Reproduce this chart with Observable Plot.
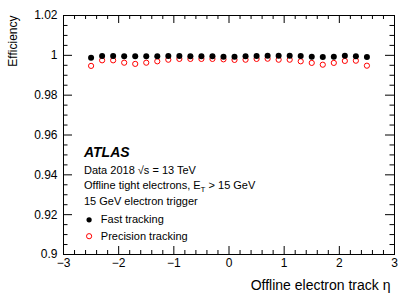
<!DOCTYPE html>
<html>
<head>
<meta charset="utf-8">
<script src="https://cdn.jsdelivr.net/npm/d3@7"></script>
<script src="https://cdn.jsdelivr.net/npm/@observablehq/plot@0.6"></script>
<style>
  html, body { margin: 0; padding: 0; background: #fff; }
  svg { display: block; }
</style>
</head>
<body>
<div id="chart"></div>
<script>
// ---- data ----
const eta = [-2.5, -2.3, -2.1, -1.9, -1.7, -1.5, -1.3, -1.1, -0.9, -0.7, -0.5, -0.3, -0.1,
              0.1, 0.3, 0.5, 0.7, 0.9, 1.1, 1.3, 1.5, 1.7, 1.9, 2.1, 2.3, 2.5];
const fastEff = [0.9988, 0.9997, 0.9997, 0.9995, 0.9995, 0.9995, 0.9995, 0.9997, 0.9997, 0.9995, 0.9995, 0.9995, 0.9993,
                 0.9993, 0.9995, 0.9997, 0.9998, 0.9998, 0.9998, 0.9997, 0.9993, 0.9992, 0.9993, 0.9998, 0.9995, 0.9992];
const precEff = [0.9947, 0.9975, 0.9975, 0.9963, 0.9957, 0.9963, 0.9970, 0.9978, 0.9982, 0.9982, 0.9982, 0.9982, 0.9980,
                 0.9977, 0.9978, 0.9982, 0.9983, 0.9978, 0.9978, 0.9970, 0.9962, 0.9953, 0.9962, 0.9972, 0.9973, 0.9948];
const xMajor = [-3, -2, -1, 0, 1, 2, 3];
const xMinor = [-2.8, -2.6, -2.4, -2.2, -1.8, -1.6, -1.4, -1.2, -0.8, -0.6, -0.4, -0.2,
                 0.2, 0.4, 0.6, 0.8, 1.2, 1.4, 1.6, 1.8, 2.2, 2.4, 2.6, 2.8];
const yMajor = [0.9, 0.92, 0.94, 0.96, 0.98, 1, 1.02];
const yMinor = [0.905, 0.91, 0.915, 0.925, 0.93, 0.935, 0.945, 0.95, 0.955, 0.965, 0.97, 0.975,
                0.985, 0.99, 0.995, 1.005, 1.01, 1.015];
const xTitle = "Offline electron track η";
const yTitle = "Efficiency";
const infoLines = ["Data 2018 √s = 13 TeV", "Offline tight electrons, E_T > 15 GeV", "15 GeV electron trigger"];
const seriesNames = ["Fast tracking", "Precision tracking"];

const fast = eta.map((e, i) => ({eta: e, eff: fastEff[i]}));
const prec = eta.map((e, i) => ({eta: e, eff: precEff[i]}));

const W = 415, H = 298;
const mL = 63, mR = 21, mT = 15, mB = 44;
const iW = W - mL - mR, iH = H - mT - mB;
const font = "'Liberation Sans', Arial, Helvetica, sans-serif";
const minus = s => s.replace("-", "\u2212");

const plot = Plot.plot({
  width: W, height: H,
  marginLeft: mL, marginRight: mR, marginTop: mT, marginBottom: mB,
  style: {fontFamily: font, fontSize: "12px", background: "#fff", color: "#000"},
  x: {domain: [-3, 3], label: null},
  y: {domain: [0.9, 1.02], label: null},
  marks: [
    Plot.frame({stroke: "#000", strokeWidth: 1}),
    // inward ticks: bottom / top (x), left / right (y)
    Plot.tickX(xMajor, {x: d => d, insetTop: iH - 8, stroke: "#000"}),
    Plot.tickX(xMinor, {x: d => d, insetTop: iH - 4, stroke: "#000"}),
    Plot.tickX(xMajor, {x: d => d, insetBottom: iH - 8, stroke: "#000"}),
    Plot.tickX(xMinor, {x: d => d, insetBottom: iH - 4, stroke: "#000"}),
    Plot.tickY(yMajor, {y: d => d, insetRight: iW - 9, stroke: "#000"}),
    Plot.tickY(yMinor, {y: d => d, insetRight: iW - 4.5, stroke: "#000"}),
    Plot.tickY(yMajor, {y: d => d, insetLeft: iW - 9, stroke: "#000"}),
    Plot.tickY(yMinor, {y: d => d, insetLeft: iW - 4.5, stroke: "#000"}),
    Plot.axisX({ticks: xMajor, tickSize: 0, tickPadding: 4, fontSize: 12, tickFormat: d => minus(String(d)), label: null}),
    Plot.axisY({ticks: yMajor, tickSize: 0, tickPadding: 6, fontSize: 12, tickFormat: d => String(+d.toFixed(2)), label: null}),
    // axis titles
    Plot.text([xTitle], {text: d => d, frameAnchor: "bottom-right", textAnchor: "end", lineAnchor: "middle", dx: -4, dy: 31, fontSize: 14}),
    Plot.text([yTitle], {text: d => d, frameAnchor: "top-left", textAnchor: "end", lineAnchor: "middle", rotate: -90, dx: -50, dy: 0, fontSize: 12}),
    // data
    Plot.dot(prec, {x: "eta", y: "eff", r: 2.6, stroke: "#ff0000", strokeWidth: 1, fill: "none"}),
    Plot.dot(fast, {x: "eta", y: "eff", r: 3, fill: "#000", stroke: "none"}),
    // ATLAS label and info
    Plot.text(["ATLAS"], {text: d => d, frameAnchor: "top-left", textAnchor: "start", lineAnchor: "middle", dx: 20.5, dy: 137.5, fontSize: 14, fontWeight: "bold", fontStyle: "italic"}),
    Plot.text([infoLines[0]], {text: d => d, frameAnchor: "top-left", textAnchor: "start", lineAnchor: "middle", dx: 20.5, dy: 155, fontSize: 11}),
    Plot.text([infoLines[1]], {text: d => d, frameAnchor: "top-left", textAnchor: "start", lineAnchor: "middle", dx: 20.5, dy: 170, fontSize: 11}),
    Plot.text([infoLines[2]], {text: d => d, frameAnchor: "top-left", textAnchor: "start", lineAnchor: "middle", dx: 20.5, dy: 185.7, fontSize: 11}),
    // legend
    Plot.dot([seriesNames[0]], {frameAnchor: "top-left", dx: 25.6, dy: 204.3, r: 2.6, fill: "#000", stroke: "none"}),
    Plot.dot([seriesNames[1]], {frameAnchor: "top-left", dx: 25.6, dy: 220.7, r: 2.6, stroke: "#ff0000", strokeWidth: 1, fill: "none"}),
    Plot.text([seriesNames[0]], {text: d => d, frameAnchor: "top-left", textAnchor: "start", lineAnchor: "middle", dx: 37.3, dy: 204.3, fontSize: 11}),
    Plot.text([seriesNames[1]], {text: d => d, frameAnchor: "top-left", textAnchor: "start", lineAnchor: "middle", dx: 37.3, dy: 220.7, fontSize: 11})
  ]
});

// subscript T in E_T
d3.select(plot).selectAll("text").each(function() {
  if (this.textContent === infoLines[1]) {
    const [pre, post] = infoLines[1].split("_T");
    const t = d3.select(this);
    t.text(null);
    t.append("tspan").text(pre);
    t.append("tspan").attr("dy", "3").attr("font-size", "8").text("T");
    t.append("tspan").attr("dy", "-3").text(" " + post.trim());
  }
});

document.getElementById("chart").appendChild(plot);
</script>
</body>
</html>
